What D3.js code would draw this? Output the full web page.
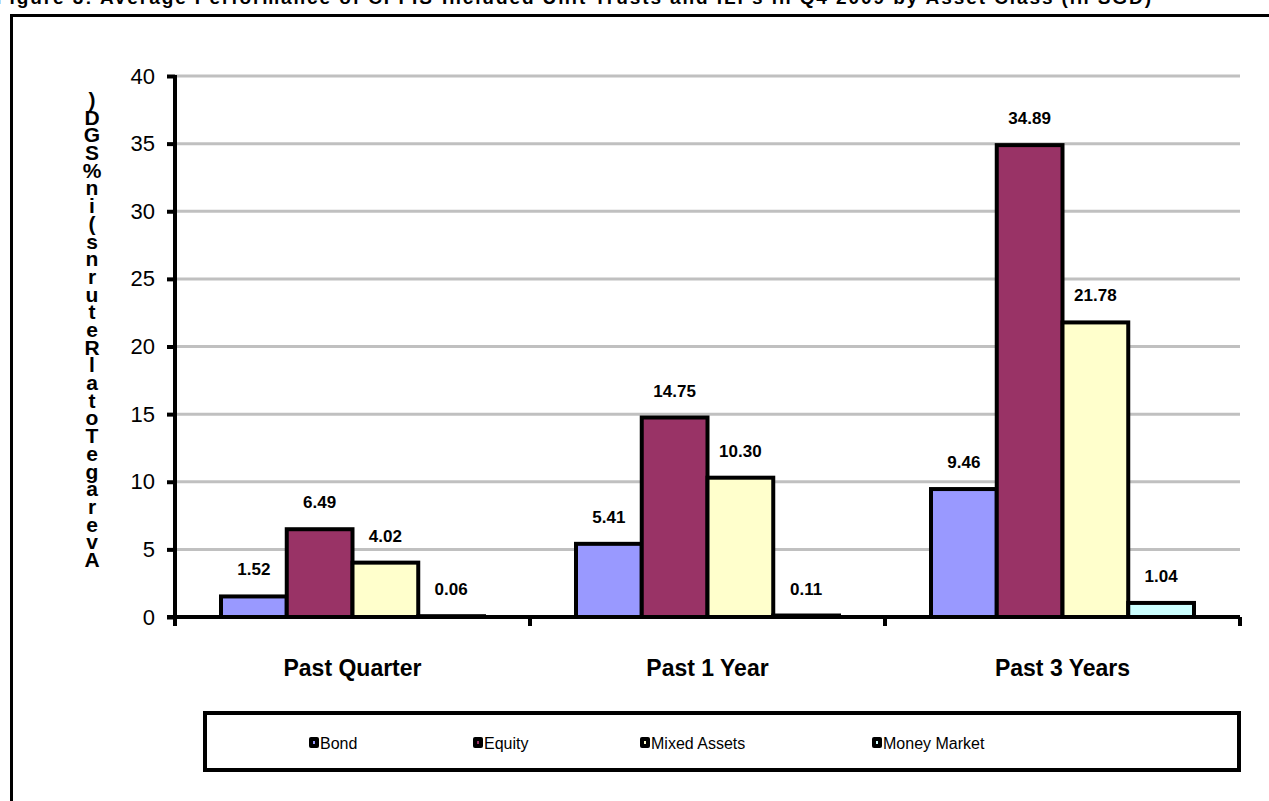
<!DOCTYPE html>
<html>
<head>
<meta charset="utf-8">
<script src="https://cdn.jsdelivr.net/npm/d3@7"></script>
<style>
  body { margin: 0; background: #fff; }
  svg { display: block; font-family: "Liberation Sans", Arial, sans-serif; }
</style>
</head>
<body>
<div id="chart"></div>
<script>
// chart data
const categories = ["Past Quarter", "Past 1 Year", "Past 3 Years"];
const seriesNames = ["Bond", "Equity", "Mixed Assets", "Money Market"];
const bond = [1.52, 5.41, 9.46];
const equity = [6.49, 14.75, 34.89];
const mixedAssets = [4.02, 10.30, 21.78];
const moneyMarket = [0.06, 0.11, 1.04];
const yTicks = [0, 5, 10, 15, 20, 25, 30, 35, 40];
const seriesColors = ["#9999FF", "#993366", "#FFFFCC", "#CCFFFF"];

const seriesValues = [bond, equity, mixedAssets, moneyMarket];

const width = 1269, height = 801;
const plotLeft = 175, plotRight = 1240, plotTop = 76, plotBottom = 617;

const svg = d3.select("#chart").append("svg")
    .attr("width", width)
    .attr("height", height);

// clipped title at very top
svg.append("text")
    .attr("x", -4)
    .attr("y", 4)
    .attr("font-weight", "bold")
    .attr("font-size", 19)
    .attr("textLength", 1155)
    .attr("lengthAdjust", "spacing")
    .text("Figure 3: Average Performance of CPFIS-Included Unit Trusts and ILPs in Q4 2009 by Asset Class (in SGD)");

// outer frame (runs off right and bottom)
svg.append("rect")
    .attr("x", 11.5)
    .attr("y", 15.5)
    .attr("width", 1300)
    .attr("height", 900)
    .attr("fill", "none")
    .attr("stroke", "#000")
    .attr("stroke-width", 3);

const y = d3.scaleLinear().domain([0, 40]).range([plotBottom, plotTop]);
const x0 = d3.scaleBand().domain(categories).range([plotLeft, plotRight]);
const x1 = d3.scaleBand().domain(seriesNames)
    .range([46, x0.bandwidth() - 46]);

// gridlines
svg.append("g").selectAll("line")
    .data(yTicks.filter(d => d > 0))
    .enter()
    .append("line")
    .attr("x1", plotLeft)
    .attr("x2", plotRight)
    .attr("y1", d => y(d))
    .attr("y2", d => y(d))
    .attr("stroke", "#C0C0C0")
    .attr("stroke-width", 3);

// bars
const groups = svg.append("g").selectAll("g")
    .data(categories)
    .enter()
    .append("g")
    .attr("transform", d => "translate(" + x0(d) + ",0)");

groups.selectAll("rect")
    .data((d, i) => seriesNames.map((s, j) => ({ s: s, v: seriesValues[j][i], j: j })))
    .enter()
    .append("rect")
    .attr("x", d => x1(d.s))
    .attr("y", d => y(d.v))
    .attr("width", x1.bandwidth())
    .attr("height", d => y(0) - y(d.v))
    .attr("fill", d => seriesColors[d.j])
    .attr("stroke", "#000")
    .attr("stroke-width", 4);

groups.selectAll("text")
    .data((d, i) => seriesNames.map((s, j) => ({ s: s, v: seriesValues[j][i] })))
    .enter()
    .append("text")
    .attr("x", d => x1(d.s) + x1.bandwidth() / 2)
    .attr("y", d => y(d.v) - 21)
    .attr("text-anchor", "middle")
    .attr("font-weight", "bold")
    .attr("font-size", 17)
    .text(d => d.v.toFixed(2));

// y axis
const yAxis = d3.axisLeft(y).tickValues(yTicks).tickSize(8).tickPadding(12);
const yAxisGroup = svg.append("g")
    .attr("transform", "translate(" + plotLeft + ",0)")
    .call(yAxis);
yAxisGroup.select(".domain").attr("stroke-width", 4).attr("d", "M0," + (plotTop - 1) + "V" + (plotBottom + 2));
yAxisGroup.selectAll(".tick line").attr("stroke-width", 4);
yAxisGroup.selectAll(".tick text")
    .attr("font-size", 22)
    .attr("font-family", "Liberation Sans, Arial, sans-serif")
    .attr("fill", "#000");

// x axis
const xAxisGroup = svg.append("g")
    .attr("transform", "translate(0," + plotBottom + ")");
xAxisGroup.append("line")
    .attr("x1", plotLeft - 8)
    .attr("x2", plotRight)
    .attr("stroke", "#000")
    .attr("stroke-width", 4);
xAxisGroup.selectAll(".xtick")
    .data(categories.concat([null]))
    .enter()
    .append("line")
    .attr("x1", (d, i) => plotLeft + i * x0.step())
    .attr("x2", (d, i) => plotLeft + i * x0.step())
    .attr("y1", 0)
    .attr("y2", 9)
    .attr("stroke", "#000")
    .attr("stroke-width", 4);
xAxisGroup.selectAll(".xlabel")
    .data(categories)
    .enter()
    .append("text")
    .attr("x", d => x0(d) + x0.bandwidth() / 2)
    .attr("y", 59)
    .attr("text-anchor", "middle")
    .attr("font-weight", "bold")
    .attr("font-size", 23)
    .text(d => d);

// y axis title: characters stacked bottom-up, spaces dropped
const yTitle = "Average Total Returns (in % SGD)";
const chars = yTitle.replace(/ /g, "").split("");
const step = (567 - 107) / (chars.length - 1);
svg.append("g").selectAll("text")
    .data(chars)
    .enter()
    .append("text")
    .attr("x", 92)
    .attr("y", (d, i) => 567 - i * step)
    .attr("text-anchor", "middle")
    .attr("font-weight", "bold")
    .attr("font-size", 21)
    .text(d => d);

// legend
svg.append("rect")
    .attr("x", 205)
    .attr("y", 713)
    .attr("width", 1034)
    .attr("height", 57)
    .attr("fill", "#fff")
    .attr("stroke", "#000")
    .attr("stroke-width", 4);

const legendX = [310, 474, 641, 873];
const legendItems = svg.append("g").selectAll("g")
    .data(seriesNames)
    .enter()
    .append("g")
    .attr("transform", (d, i) => "translate(" + legendX[i] + ",743)");
legendItems.append("rect")
    .attr("x", -1)
    .attr("y", -6)
    .attr("width", 10)
    .attr("height", 11)
    .attr("rx", 2)
    .attr("fill", "#000");
legendItems.append("rect")
    .attr("x", 3)
    .attr("y", -2)
    .attr("width", 2)
    .attr("height", 3)
    .attr("fill", (d, i) => seriesColors[i]);
legendItems.append("text")
    .attr("x", 10)
    .attr("y", 6)
    .attr("font-size", 16)
    .text(d => d);
</script>
</body>
</html>
